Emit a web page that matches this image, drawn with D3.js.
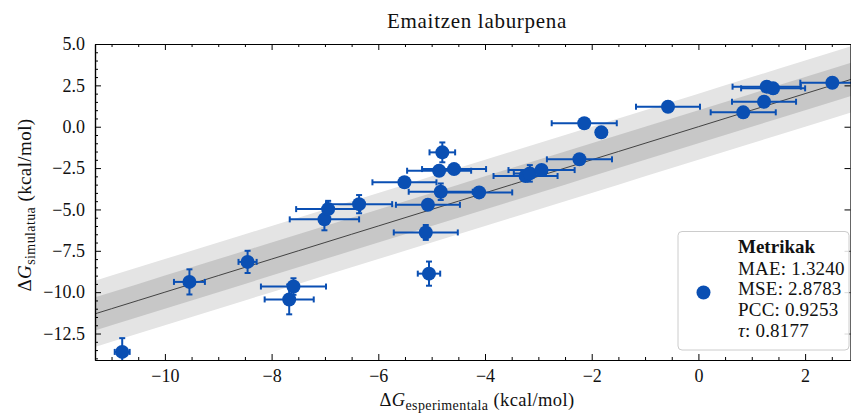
<!DOCTYPE html>
<html>
<head>
<meta charset="utf-8">
<script src="https://cdn.jsdelivr.net/npm/d3@7"></script>
<style>
  body { margin: 0; background: #fff; }
  svg { display: block; }
  text { font-family: "Liberation Serif", "DejaVu Serif", serif; fill: #111; }
</style>
</head>
<body>
<svg id="chart" width="851" height="414"></svg>
<script>
// ---- data (kcal/mol) ----
const expValues = [-10.80, -9.54, -8.45, -7.59, -7.67, -7.01, -6.94, -6.36, -5.51, -5.11,
                   -5.05, -5.07, -4.83, -4.11, -4.86, -4.58, -4.80, -3.24, -3.16, -2.94,
                   -2.23, -2.14, -1.82, -0.57, 0.84, 1.23, 1.28, 1.40, 2.51];
const simValues = [-13.61, -9.38, -8.17, -9.66, -10.44, -5.60, -4.98, -4.68, -3.36, -6.39,
                   -8.88, -4.72, -3.93, -3.97, -2.66, -2.56, -1.55, -2.98, -2.82, -2.62,
                   -1.97, 0.21, -0.34, 1.21, 0.87, 1.51, 2.42, 2.32, 2.66];
const expErrors = [0.14, 0.29, 0.17, 0.61, 0.46, 0.65, 0.60, 0.62, 0.60, 0.60,
                   0.21, 0.60, 0.60, 0.62, 0.60, 0.60, 0.24, 0.60, 0.30, 0.62,
                   0.61, 0.61, 0.10, 0.60, 0.61, 0.60, 0.64, 0.60, 0.60];
const simErrors = [0.83, 0.76, 0.67, 0.50, 0.90, 0.66, 0.50, 0.55, 0.25, 0.45,
                   0.73, 0.30, 0.50, 0.30, 0.30, 0.30, 0.60, 0.30, 0.50, 0.30,
                   0.30, 0.30, 0.20, 0.30, 0.30, 0.30, 0.30, 0.30, 0.30];
const xTicks = [-10, -8, -6, -4, -2, 0, 2];
const yTicks = [5.0, 2.5, 0.0, -2.5, -5.0, -7.5, -10.0, -12.5];
const bandInner = 1;   // ±1 kcal/mol
const bandOuter = 2;   // ±2 kcal/mol
const titleText = "Emaitzen laburpena";
const legendTitle = "Metrikak";
const legendNames = ["MAE", "MSE", "PCC", "τ"];
const legendValues = ["1.3240", "2.8783", "0.9253", "0.8177"];

const data = expValues.map((x, i) => ({x, y: simValues[i], xe: expErrors[i], ye: simErrors[i]}));

// ---- layout ----
const L = 95, R = 851, T = 44, B = 360;
const x = d3.scaleLinear().domain([-11.31, 2.86]).range([L, R]);
const y = d3.scaleLinear().domain([-14.1, 5.0]).range([B, T]);
const blue = "#0a4fb3";
const serif = '"Liberation Serif", "DejaVu Serif", serif';

const svg = d3.select("#chart");
svg.append("defs").append("clipPath").attr("id", "clip")
  .append("rect").attr("x", L).attr("y", T).attr("width", R - L).attr("height", B - T);

const plot = svg.append("g").attr("clip-path", "url(#clip)");
const xs = d3.range(-12, 4.01, 0.5);
const band = (w) => d3.area().x(v => x(v)).y0(v => y(v - w)).y1(v => y(v + w));
plot.append("path").datum(xs).attr("d", band(bandOuter)).attr("fill", "#e4e4e4");
plot.append("path").datum(xs).attr("d", band(bandInner)).attr("fill", "#c7c7c7");
plot.append("path").datum(xs)
  .attr("d", d3.line().x(v => x(v)).y(v => y(v)))
  .attr("stroke", "#333").attr("stroke-width", 0.9).attr("fill", "none");

// error bars
const eb = plot.append("g").attr("stroke", blue).attr("stroke-width", 2).attr("fill", "none");
const cap = 3;
data.forEach(d => {
  const cx = x(d.x), cy = y(d.y);
  const x0 = x(d.x - d.xe), x1 = x(d.x + d.xe);
  const y0 = y(d.y - d.ye), y1 = y(d.y + d.ye);
  eb.append("line").attr("x1", x0).attr("x2", x1).attr("y1", cy).attr("y2", cy);
  eb.append("line").attr("x1", x0).attr("x2", x0).attr("y1", cy - cap).attr("y2", cy + cap);
  eb.append("line").attr("x1", x1).attr("x2", x1).attr("y1", cy - cap).attr("y2", cy + cap);
  eb.append("line").attr("x1", cx).attr("x2", cx).attr("y1", y0).attr("y2", y1);
  eb.append("line").attr("x1", cx - cap).attr("x2", cx + cap).attr("y1", y0).attr("y2", y0);
  eb.append("line").attr("x1", cx - cap).attr("x2", cx + cap).attr("y1", y1).attr("y2", y1);
});
plot.append("g").selectAll("circle").data(data).join("circle")
  .attr("cx", d => x(d.x)).attr("cy", d => y(d.y)).attr("r", 7).attr("fill", blue);

// ---- axes (ticks inward) ----
const minorX = d3.range(-11, 3.01, 0.5).filter(v => !xTicks.includes(v));
const minorY = d3.range(-14, 5.01, 0.5).filter(v => !yTicks.includes(v));
const fmtMinus = s => s.replace("-", "−");

const axB = svg.append("g").attr("transform", `translate(0,${B})`);
axB.call(d3.axisBottom(x).tickValues(xTicks).tickSizeInner(-6).tickSizeOuter(0).tickPadding(9)
  .tickFormat(d => fmtMinus(d3.format("d")(d))));
axB.append("g").call(d3.axisBottom(x).tickValues(minorX).tickSizeInner(-3).tickSizeOuter(0).tickFormat(""));

const axT = svg.append("g").attr("transform", `translate(0,${T})`);
axT.call(d3.axisTop(x).tickValues(xTicks).tickSizeInner(-6).tickSizeOuter(0).tickFormat(""));
axT.append("g").call(d3.axisTop(x).tickValues(minorX).tickSizeInner(-3).tickSizeOuter(0).tickFormat(""));

const axL = svg.append("g").attr("transform", `translate(${L},0)`);
axL.call(d3.axisLeft(y).tickValues(yTicks).tickSizeInner(-6).tickSizeOuter(0).tickPadding(10)
  .tickFormat(d => fmtMinus(d3.format(".1f")(d))));
axL.append("g").call(d3.axisLeft(y).tickValues(minorY).tickSizeInner(-3).tickSizeOuter(0).tickFormat(""));

const axR = svg.append("g").attr("transform", `translate(${R - 0.5},0)`);
axR.call(d3.axisRight(y).tickValues(yTicks).tickSizeInner(-6).tickSizeOuter(0).tickFormat(""));

svg.selectAll("g").attr("font-family", null);
svg.selectAll(".domain").attr("stroke", "#000").attr("stroke-width", 1.2);
svg.selectAll(".tick line").attr("stroke", "#000").attr("stroke-width", 1);
svg.selectAll(".tick text").style("font-family", serif).style("font-size", "18px").attr("fill", "#111");

// ---- title & labels ----
svg.append("text").attr("x", 477).attr("y", 28).attr("text-anchor", "middle")
  .style("font-family", serif).style("font-size", "21px").style("letter-spacing", "0.7px").text(titleText);

const xl = svg.append("text").attr("x", 477).attr("y", 406).attr("text-anchor", "middle")
  .style("font-family", serif).style("font-size", "18.5px").style("letter-spacing", "0.4px");
xl.append("tspan").text("Δ");
xl.append("tspan").style("font-style", "italic").text("G");
xl.append("tspan").attr("dy", 3.5).style("font-size", "14px").text("esperimentala");
xl.append("tspan").attr("dy", -3.5).text(" (kcal/mol)");

const yl = svg.append("text").attr("transform", `translate(31,205) rotate(-90)`)
  .attr("text-anchor", "middle").style("font-family", serif).style("font-size", "19px").style("letter-spacing", "0.4px");
yl.append("tspan").text("Δ");
yl.append("tspan").style("font-style", "italic").text("G");
yl.append("tspan").attr("dy", 3.5).style("font-size", "14px").text("simulatua");
yl.append("tspan").attr("dy", -3.5).text(" (kcal/mol)");

// ---- legend ----
const lg = svg.append("g");
lg.append("rect").attr("x", 678).attr("y", 231.5).attr("width", 171).attr("height", 118.5)
  .attr("rx", 4).attr("fill", "#fff").attr("fill-opacity", 0.85).attr("stroke", "#cccccc").attr("stroke-width", 1);
lg.append("circle").attr("cx", 703.5).attr("cy", 292.5).attr("r", 7).attr("fill", blue);
lg.append("text").attr("x", 738).attr("y", 253).style("font-family", serif).style("font-size", "19px")
  .style("font-weight", "bold").text(legendTitle);
legendNames.forEach((name, i) => {
  const t = lg.append("text").attr("x", 738).attr("y", 274.5 + i * 20.7).style("font-family", serif)
    .style("font-size", "19px").style("letter-spacing", "0.2px");
  t.append("tspan").style("font-style", name === "τ" ? "italic" : "normal").text(name);
  t.append("tspan").text(": " + legendValues[i]);
});
</script>
</body>
</html>
